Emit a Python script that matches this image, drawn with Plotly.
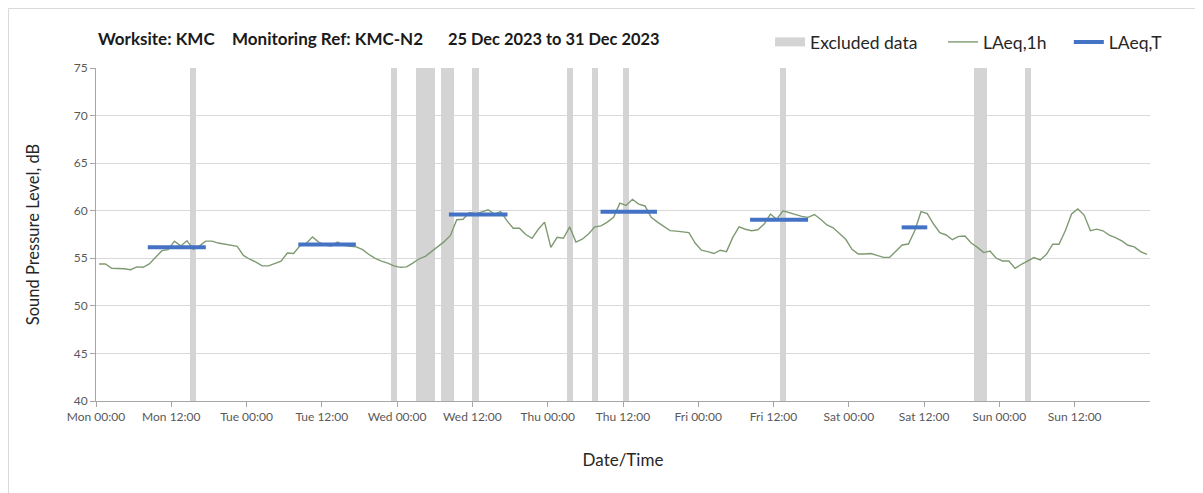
"""
Noise monitoring chart: hourly LAeq with daytime LAeq,T and excluded periods.
"""

import pandas as pd
import plotly.graph_objects as go

START = '2023-12-25 00:00'
END = '2024-01-01 00:00'

# hourly LAeq,1h readings (dB), Mon 25 Dec 00:00 onwards
laeq_1h = [
    54.4, 54.4, 53.95, 53.95, 53.9, 53.8, 54.1, 54.05, 54.4, 55.1, 55.8, 55.9,
    56.8, 56.3, 56.85, 55.95, 56.3, 56.8, 56.8, 56.6, 56.5, 56.4, 56.25, 55.3,
    54.9, 54.6, 54.2, 54.2, 54.45, 54.7, 55.55, 55.5, 56.3, 56.55, 57.25, 56.7,
    56.4, 56.3, 56.7, 56.35, 56.25, 56.2, 55.9, 55.4, 55.0, 54.7, 54.5, 54.2,
    54.05, 54.1, 54.5, 54.95, 55.2, 55.7, 56.2, 56.75, 57.4, 59.05, 59.1, 59.8,
    59.65, 59.9, 60.1, 59.65, 59.9, 58.95, 58.15, 58.15, 57.5, 57.1, 58.05, 58.8,
    56.15, 57.2, 57.1, 58.3, 56.7, 57.0, 57.55, 58.3, 58.4, 58.8, 59.3, 60.8,
    60.55, 61.2, 60.7, 60.5, 59.3, 58.8, 58.35, 57.9, 57.85, 57.8, 57.7, 56.6,
    55.85, 55.7, 55.5, 55.85, 55.7, 57.2, 58.3, 58.05, 57.9, 58.0, 58.6, 59.65,
    59.1, 60.0, 59.8, 59.65, 59.4, 59.3, 59.6, 59.1, 58.5, 58.2, 57.55, 57.0,
    55.95, 55.45, 55.45, 55.5, 55.3, 55.1, 55.1, 55.8, 56.4, 56.5, 57.9, 59.9,
    59.7, 58.6, 57.7, 57.45, 56.95, 57.3, 57.35, 56.6, 56.15, 55.6, 55.75, 55.0,
    54.72, 54.72, 53.94, 54.37, 54.72, 55.07, 54.82, 55.42, 56.48, 56.48, 57.89, 59.65,
    60.18, 59.54, 57.89, 58.06, 57.89, 57.43, 57.18, 56.83, 56.37, 56.2, 55.71, 55.42,
]

# LAeq,T over daytime periods
period_start = ['2023-12-25 08:15', '2023-12-26 08:15', '2023-12-27 08:15',
                '2023-12-28 08:25', '2023-12-29 08:15', '2023-12-30 08:25']
period_end = ['2023-12-25 17:30', '2023-12-26 17:25', '2023-12-27 17:35',
              '2023-12-28 17:25', '2023-12-29 17:30', '2023-12-30 12:30']
laeq_t = [56.15, 56.45, 59.6, 59.9, 59.05, 58.25]

# excluded periods
excl_start = ['2023-12-25 15:00', '2023-12-26 23:00', '2023-12-27 03:00',
              '2023-12-27 07:00', '2023-12-27 12:00', '2023-12-28 03:00',
              '2023-12-28 07:00', '2023-12-28 12:00', '2023-12-29 13:00',
              '2023-12-30 20:00', '2023-12-31 04:00']
excl_end = ['2023-12-25 16:00', '2023-12-27 00:00', '2023-12-27 06:00',
            '2023-12-27 09:00', '2023-12-27 13:00', '2023-12-28 04:00',
            '2023-12-28 08:00', '2023-12-28 13:00', '2023-12-29 14:00',
            '2023-12-30 22:00', '2023-12-31 05:00']

# title pieces
title_parts = ['Worksite: KMC', 'Monitoring Ref: KMC-N2', '25 Dec 2023 to 31 Dec 2023']

FONT = 'Lato'
TEXT = '#262626'
GRID = '#d9d9d9'
AXIS = '#a6a6a6'
EXCL = '#d4d4d4'

times = pd.date_range(pd.Timestamp(START) + pd.Timedelta(minutes=30),
                      periods=len(laeq_1h), freq='h')
tick_pos = pd.date_range(START, END, freq='12h')[:-1]

ex_s = pd.to_datetime(pd.Series(excl_start))
ex_e = pd.to_datetime(pd.Series(excl_end))
ex_mid = ex_s + (ex_e - ex_s) / 2
ex_w = (ex_e - ex_s).dt.total_seconds() * 1000

fig = go.Figure()

fig.add_trace(go.Bar(
    x=ex_mid, y=[35] * len(ex_mid), base=40, width=list(ex_w),
    marker=dict(color=EXCL, line_width=0),
    showlegend=False, name='Excluded data'
))
# legend entry for the excluded bands (wide grey block like the original)
fig.add_trace(go.Scatter(
    x=[None], y=[None], mode='lines',
    line=dict(color=EXCL, width=9),
    name='Excluded data', legend='legend'
))

fig.add_trace(go.Scatter(
    x=times, y=laeq_1h, mode='lines',
    line=dict(color='#7f9a72', width=1.4),
    name='LAeq,1h', legend='legend2'
))

seg_x, seg_y = [], []
for s, e, v in zip(period_start, period_end, laeq_t):
    seg_x += [s, e, None]
    seg_y += [v, v, None]
fig.add_trace(go.Scatter(
    x=seg_x, y=seg_y, mode='lines',
    line=dict(color='#4472c4', width=4),
    name='LAeq,T', legend='legend3'
))

leg = dict(orientation='h', y=1.078, xanchor='left', yanchor='middle',
           font=dict(size=17.5, color=TEXT), itemwidth=30, bgcolor='rgba(0,0,0,0)')

fig.update_layout(
    width=1195, height=485,
    margin=dict(l=88, r=53, t=60, b=92, autoexpand=False),
    paper_bgcolor='white', plot_bgcolor='white',
    font=dict(family=FONT, color=TEXT),
    bargap=0,
    legend=dict(leg, x=0.6395),
    legend2=dict(leg, x=0.8036),
    legend3=dict(leg, x=0.923),
    xaxis=dict(
        type='date', range=[START, END],
        tickvals=tick_pos, tickformat='%a %H:%M',
        showgrid=False, showline=True, linecolor=AXIS,
        ticks='outside', ticklen=5, tickcolor=AXIS,
        tickfont=dict(size=12, color='#595959'),
        title=dict(text='Date/Time', font=dict(size=17, color=TEXT), standoff=30),
        zeroline=False, automargin=False
    ),
    xaxis2=dict(
        type='date', range=[START, END], overlaying='x',
        tick0=START, dtick=24 * 3600000,
        showgrid=True, gridcolor=GRID, gridwidth=1,
        showticklabels=False, ticks='outside', ticklen=5, tickcolor=AXIS,
        showline=False
    ),
    yaxis=dict(
        range=[40, 75], dtick=5,
        showgrid=True, gridcolor=GRID, gridwidth=1,
        showline=True, linecolor=AXIS,
        ticks='outside', ticklen=5, tickcolor=AXIS,
        tickfont=dict(size=12, color='#595959'),
        title=dict(text='Sound Pressure Level, dB', font=dict(size=16.5, color=TEXT),
                   standoff=29),
        zeroline=False, automargin=False
    )
)

for txt, xp, fs in zip(title_parts, [0.0, 0.1271, 0.332], [17, 17, 16.4]):
    fig.add_annotation(
        text='<b>' + txt + '</b>',
        xref='paper', yref='paper', x=xp, y=1.09, xanchor='left', yanchor='middle',
        showarrow=False, font=dict(size=fs, color='#1a1a1a', family=FONT),
    )

# chart-area frame (top and left edges visible in the original)
fig.add_shape(type='line', xref='paper', yref='paper',
              x0=-0.083, x1=1.06, y0=1.1787, y1=1.1787,
              line=dict(color=GRID, width=1))
fig.add_shape(type='line', xref='paper', yref='paper',
              x0=-0.083, x1=-0.083, y0=1.1787, y1=-0.3,
              line=dict(color=GRID, width=1))

fig.write_html("out.html")
